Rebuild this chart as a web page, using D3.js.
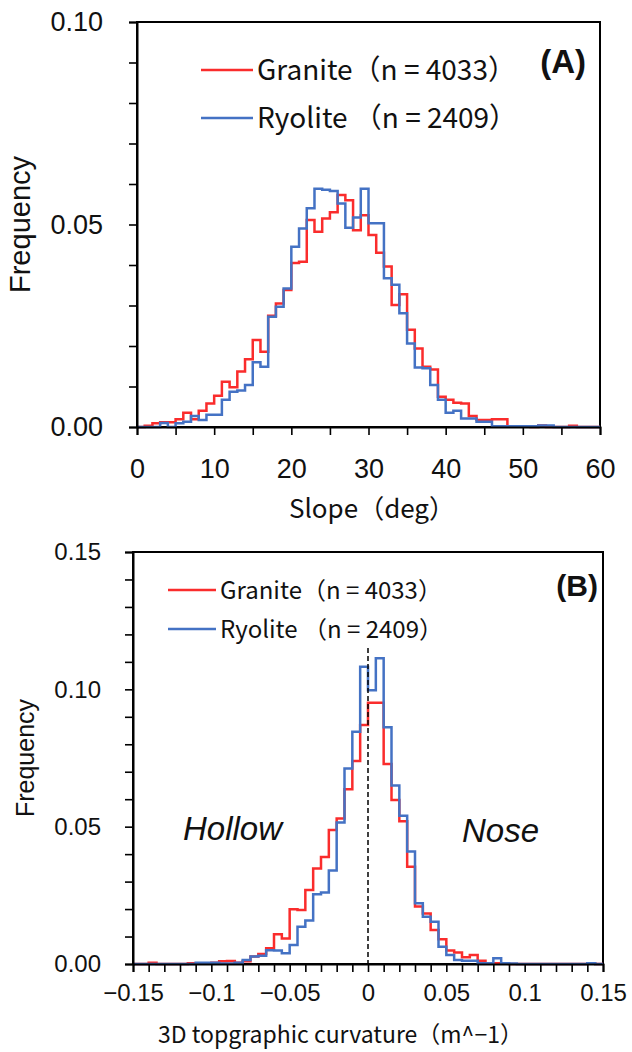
<!DOCTYPE html>
<html>
<head>
<meta charset="utf-8">
<script src="https://cdn.jsdelivr.net/npm/d3@7"></script>
<style>
  body { margin: 0; background: #fff; }
  svg text { fill: #111; }
</style>
</head>
<body>
<svg id="chart" width="632" height="1052"></svg>
<script>
// ---- data ----
// slope histogram, 1 deg bins from 0 to 60
const slopeEdges = d3.range(0, 61, 1);
const slopeGranite = [
  0, 0.0003, 0.0009, 0.0012, 0.0012, 0.0019, 0.0035, 0.0019, 0.004, 0.0058,
  0.0077, 0.0112, 0.0098, 0.0137, 0.0167, 0.0215, 0.0186, 0.0275, 0.0305, 0.0338,
  0.0405, 0.0408, 0.0511, 0.0482, 0.0515, 0.053, 0.0573, 0.056, 0.0486, 0.0523,
  0.0474, 0.043, 0.0396, 0.0301, 0.0328, 0.024, 0.0194, 0.0149, 0.0142, 0.0075,
  0.0067, 0.006, 0.0058, 0.0027, 0.0017, 0.0017, 0.0019, 0.0019, 0.0002, 0.0002,
  0.0002, 0, 0.0004, 0, 0, 0, 0.0003, 0, 0, 0
];
const slopeRyolite = [
  0, 0, 0, 0.001, 0, 0.0009, 0.0013, 0.0027, 0.0017, 0.003,
  0.003, 0.0067, 0.0087, 0.009, 0.0104, 0.016, 0.0149, 0.0272, 0.0297, 0.0342,
  0.0445, 0.049, 0.054, 0.0588, 0.0586, 0.0583, 0.0552, 0.0492, 0.0517, 0.0588,
  0.0503, 0.0503, 0.0367, 0.0351, 0.0281, 0.0206, 0.0147, 0.0145, 0.0104, 0.0067,
  0.0035, 0.004, 0.0021, 0.0021, 0.0013, 0.0013, 0.0002, 0.0002, 0.0002, 0.0002,
  0.0002, 0.0002, 0.0004, 0.0004, 0, 0, 0, 0, 0, 0
];

// curvature histogram, 0.005 bins from -0.15 to 0.15
const curvEdges = d3.range(-30, 31).map(i => i * 0.005);
const curvGranite = [
  0, 0, 0.0005, 0, 0, 0, 0, 0.0003, 0.0002, 0.0002,
  0.0005, 0.001, 0.0011, 0.0005, 0.001, 0.0027, 0.0036, 0.0057, 0.0108, 0.0093,
  0.0199, 0.0197, 0.0269, 0.0348, 0.039, 0.0488, 0.053, 0.0636, 0.0739, 0.087,
  0.0951, 0.0951, 0.0728, 0.0597, 0.052, 0.0354, 0.0209, 0.0184, 0.0124, 0.009,
  0.0049, 0.0042, 0.0025, 0.0033, 0.0012, 0.0002, 0.0003, 0.0003, 0, 0,
  0, 0, 0, 0, 0, 0, 0, 0, 0.0003, 0
];
const curvRyolite = [
  0, 0, 0, 0, 0, 0, 0, 0, 0.0005, 0.0005,
  0.0005, 0.0002, 0.0002, 0.0005, 0.0015, 0.0027, 0.003, 0.005, 0.0049, 0.0039,
  0.0069, 0.0136, 0.0158, 0.0254, 0.026, 0.034, 0.0515, 0.0712, 0.0846, 0.1082,
  0.0997, 0.1113, 0.0862, 0.065, 0.054, 0.041, 0.0221, 0.0172, 0.0154, 0.0063,
  0.0033, 0.0015, 0.0012, 0.0012, 0.0003, 0.0003, 0.0021, 0.0003, 0.0002, 0,
  0, 0, 0, 0, 0, 0, 0, 0, 0.0003, 0
];

const seriesNames = ["Granite\uFF08n = 4033\uFF09", "Ryolite \uFF08n = 2409\uFF09"];
const seriesColors = ["#fa2c2c", "#4472c4"];

const svg = d3.select("#chart");
const tickFont = "'Liberation Sans', Arial, sans-serif";
const jpFont = "'Noto Sans CJK JP', 'Liberation Sans', sans-serif";

function drawPanel(p) {
  const x = d3.scaleLinear().domain(p.xDomain).range(p.xRange);
  const y = d3.scaleLinear().domain(p.yDomain).range(p.yRange);
  const g = svg.append("g");

  // frame
  g.append("rect")
    .attr("x", p.xRange[0]).attr("y", p.yRange[1])
    .attr("width", p.xRange[1] - p.xRange[0])
    .attr("height", p.yRange[0] - p.yRange[1])
    .attr("fill", "none").attr("stroke", "#000").attr("stroke-width", 2);

  // step outlines
  const line = d3.line()
    .x(d => x(d[0])).y(d => y(d[1]))
    .curve(d3.curveStepAfter);
  p.series.forEach((vals, k) => {
    const pts = vals.map((v, i) => [p.edges[i], v]);
    pts.push([p.edges[vals.length], vals[vals.length - 1]]);
    g.append("path")
      .attr("d", line(pts))
      .attr("fill", "none")
      .attr("stroke", seriesColors[k])
      .attr("stroke-width", 2.5)
      .attr("stroke-linejoin", "miter");
  });

  if (p.zeroLine) {
    g.append("line")
      .attr("x1", x(0)).attr("x2", x(0))
      .attr("y1", p.zeroLine).attr("y2", p.yRange[0])
      .attr("stroke", "#000").attr("stroke-width", 1.5)
      .attr("stroke-dasharray", "5,3");
  }

  // axes
  const yAxis = d3.axisLeft(y)
    .tickValues(p.yTicks)
    .tickSize(8).tickPadding(p.yPad)
    .tickFormat(d => p.yLabelled(d) ? d3.format(".2f")(d) : "");
  const ya = g.append("g")
    .attr("transform", `translate(${p.xRange[0]},0)`)
    .call(yAxis);

  const xAxis = d3.axisBottom(x)
    .tickValues(p.xTicks)
    .tickSize(8).tickPadding(p.xPad)
    .tickFormat(d => p.xLabelled(d) ? p.xFormat(d) : "");
  const xa = g.append("g")
    .attr("transform", `translate(0,${p.yRange[0]})`)
    .call(xAxis);

  [ya, xa].forEach(a => {
    a.attr("font-family", tickFont).attr("font-size", p.tickSize);
    a.select(".domain").attr("stroke-width", 2);
    a.selectAll(".tick line").attr("stroke-width", 1.6);
    a.selectAll(".tick text").attr("fill", "#111");
  });

  // y title
  g.append("text")
    .attr("transform", `translate(${p.yTitleX},${(p.yRange[0] + p.yRange[1]) / 2}) rotate(-90)`)
    .attr("text-anchor", "middle")
    .attr("font-family", tickFont)
    .attr("font-size", p.yTitleSize)
    .text("Frequency");

  // x title
  g.append("text")
    .attr("x", p.xTitleX).attr("y", p.xTitleY)
    .attr("text-anchor", p.xTitleAnchor)
    .attr("font-family", jpFont)
    .attr("font-size", p.xTitleSize)
    .text(p.xTitle);

  // legend
  seriesNames.forEach((name, k) => {
    const ly = p.legend.y + k * p.legend.dy;
    g.append("line")
      .attr("x1", p.legend.x).attr("x2", p.legend.x + p.legend.len)
      .attr("y1", ly).attr("y2", ly)
      .attr("stroke", seriesColors[k]).attr("stroke-width", 2.5);
    g.append("text")
      .attr("x", p.legend.x + p.legend.len + 4).attr("y", ly)
      .attr("dy", "0.36em")
      .attr("font-family", jpFont)
      .attr("font-size", p.legend.size)
      .text(name);
  });

  // panel tag
  g.append("text")
    .attr("x", p.tag.x).attr("y", p.tag.y)
    .attr("text-anchor", "end")
    .attr("font-family", tickFont)
    .attr("font-weight", "bold")
    .attr("font-size", p.tag.size)
    .text(p.tag.text);

  (p.notes || []).forEach(n => {
    g.append("text")
      .attr("x", n.x).attr("y", n.y)
      .attr("font-family", tickFont)
      .attr("font-style", "italic")
      .attr("font-size", n.size)
      .text(n.text);
  });
}

drawPanel({
  xDomain: [0, 60], xRange: [137, 600],
  yDomain: [0, 0.1], yRange: [427, 22],
  edges: slopeEdges, series: [slopeGranite, slopeRyolite],
  yTicks: d3.range(0, 11).map(i => i / 100),
  yLabelled: d => Math.round(d * 100) % 5 === 0,
  xTicks: d3.range(0, 61, 5),
  xLabelled: d => d % 10 === 0,
  xFormat: d => String(d),
  tickSize: 27, yPad: 26, xPad: 24,
  yTitleX: 30, yTitleSize: 29,
  xTitle: "Slope\uFF08deg\uFF09", xTitleX: 372, xTitleY: 518, xTitleAnchor: "middle", xTitleSize: 26,
  legend: { x: 201, y: 70, dy: 48, len: 52, size: 28 },
  tag: { text: "(A)", x: 586, y: 73, size: 33 }
});

drawPanel({
  xDomain: [-0.15, 0.15], xRange: [133, 603],
  yDomain: [0, 0.15], yRange: [964, 552],
  edges: curvEdges, series: [curvGranite, curvRyolite],
  zeroLine: 648,
  yTicks: d3.range(0, 16).map(i => i / 100),
  yLabelled: d => Math.round(d * 100) % 5 === 0,
  xTicks: d3.range(-15, 16).map(i => i / 100),
  xLabelled: d => Math.round(d * 100) % 5 === 0,
  xFormat: d => Math.abs(d) < 1e-9 ? "0" : d3.format("~g")(d),
  tickSize: 24, yPad: 24, xPad: 12,
  yTitleX: 34, yTitleSize: 25,
  xTitle: "3D topgraphic curvature\uFF08m^\u22121\uFF09", xTitleX: 158, xTitleY: 1043, xTitleAnchor: "start", xTitleSize: 23,
  legend: { x: 168, y: 590, dy: 39, len: 48, size: 24 },
  tag: { text: "(B)", x: 598, y: 596, size: 30 },
  notes: [
    { text: "Hollow", x: 183, y: 840, size: 33 },
    { text: "Nose", x: 462, y: 842, size: 33 }
  ]
});
</script>
</body>
</html>
